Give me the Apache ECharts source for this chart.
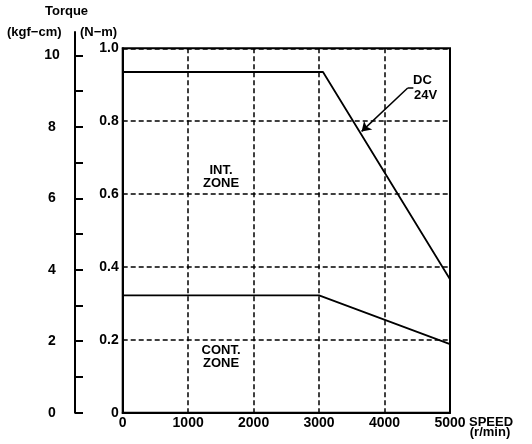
<!DOCTYPE html>
<html>
<head>
<meta charset="utf-8">
<script src="https://cdn.jsdelivr.net/npm/echarts@6/dist/echarts.min.js"></script>
<style>
  html, body { margin: 0; padding: 0; background: #fff; }
  #chart { width: 532px; height: 444px; }
</style>
</head>
<body>
<div id="chart"></div>
<script>
// speed-torque curve (N-m vs r/min)
const intSpeed = [0, 3060, 5000];
const intTorque = [0.935, 0.935, 0.366];
const contSpeed = [0, 3000, 5000];
const contTorque = [0.322, 0.322, 0.188];

const kgfTicks = [0, 1, 2, 3, 4, 5, 6, 7, 8, 9, 10];
const kgfLabels = [0, 2, 4, 6, 8, 10];

// arrow for the DC 24V note, in data coords
const arrowFrom = [4354, 0.891];
const arrowTo = [3650, 0.772];
const arrowFoot = [4440, 0.891];

const FONT = '"Liberation Sans", Arial, sans-serif';
const KGF_PER_NM = 1 / 0.0980665;

const gridTop = 48.3, gridBottom = 31.3;
const plotH = 444 - gridTop - gridBottom;
const kgfTop = 32;
// kgf axis runs higher than the plot, same scale
const kgfMax = (444 - kgfTop - gridBottom) / plotH * KGF_PER_NM;

const chart = echarts.init(document.getElementById('chart'));

const lbl = { color: '#000', fontFamily: FONT, fontSize: 13, fontWeight: 'bold' };
const axLbl = { color: '#000', fontFamily: FONT, fontSize: 14, fontWeight: 'bold' };

chart.setOption({
  animation: false,
  backgroundColor: '#fff',
  grid: [
    { left: 122.7, right: 82, top: gridTop, bottom: gridBottom, show: true, borderColor: '#000', borderWidth: 2 },
    { left: 75, width: 1, top: kgfTop, bottom: gridBottom }
  ],
  xAxis: [
    {
      type: 'value', gridIndex: 0, min: 0, max: 5000, interval: 1000,
      axisLine: { lineStyle: { color: '#000', width: 2 } },
      axisTick: { show: false },
      axisLabel: Object.assign({ margin: 3, formatter: v => String(v) }, axLbl),
      splitLine: { show: true, lineStyle: { color: '#000', type: [5, 3], width: 1.5 } }
    },
    { type: 'value', gridIndex: 1, show: false }
  ],
  yAxis: [
    {
      type: 'value', gridIndex: 0, min: 0, max: 1, interval: 0.2,
      axisLine: { show: true, lineStyle: { color: '#000', width: 2 } },
      axisTick: { show: false },
      axisLabel: Object.assign({
        margin: 4,
        formatter: v => v === 0 ? '0' : v.toFixed(1)
      }, axLbl),
      splitLine: { show: true, lineStyle: { color: '#000', type: [5, 3], width: 1.5 } }
    },
    {
      type: 'value', gridIndex: 1, min: 0, max: kgfMax,
      axisLine: { show: true, lineStyle: { color: '#000', width: 2 } },
      axisTick: { show: true, inside: true, length: 8, customValues: kgfTicks, lineStyle: { color: '#000', width: 2 } },
      axisLabel: Object.assign({ margin: 23, align: 'center', customValues: kgfLabels }, axLbl),
      splitLine: { show: false }
    }
  ],
  series: [
    {
      name: 'INT', type: 'line', xAxisIndex: 0, yAxisIndex: 0,
      data: intSpeed.map((s, i) => [s, intTorque[i]]),
      symbol: 'none',
      lineStyle: { color: '#000', width: 1.8 },
      markLine: {
        silent: true,
        symbol: ['none', 'arrow'],
        symbolSize: 9,
        label: { show: false },
        lineStyle: { color: '#000', type: 'solid', width: 1.5 },
        data: [
          [{ coord: arrowFrom }, { coord: arrowTo }],
          [{ coord: arrowFrom, symbol: 'none' }, { coord: arrowFoot, symbol: 'none' }]
        ]
      }
    },
    {
      name: 'CONT', type: 'line', xAxisIndex: 0, yAxisIndex: 0,
      data: contSpeed.map((s, i) => [s, contTorque[i]]),
      symbol: 'none',
      lineStyle: { color: '#000', width: 1.8 }
    }
  ],
  graphic: [
    { type: 'text', left: 45, top: 5, style: Object.assign({ text: 'Torque' }, lbl) },
    { type: 'text', left: 7, top: 26, style: Object.assign({ text: '(kgf−cm)' }, lbl) },
    { type: 'text', left: 80, top: 26, style: Object.assign({ text: '(N−m)' }, lbl) },
    { type: 'text', x: 221, y: 170, style: Object.assign({ text: 'INT.', align: 'center', verticalAlign: 'middle' }, lbl) },
    { type: 'text', x: 221, y: 183, style: Object.assign({ text: 'ZONE', align: 'center', verticalAlign: 'middle' }, lbl) },
    { type: 'text', x: 221, y: 350, style: Object.assign({ text: 'CONT.', align: 'center', verticalAlign: 'middle' }, lbl) },
    { type: 'text', x: 221, y: 363, style: Object.assign({ text: 'ZONE', align: 'center', verticalAlign: 'middle' }, lbl) },
    { type: 'text', x: 413, y: 80, style: Object.assign({ text: 'DC', verticalAlign: 'middle' }, lbl) },
    { type: 'text', x: 414, y: 95, style: Object.assign({ text: '24V', verticalAlign: 'middle' }, lbl) },
    { type: 'text', x: 491, y: 422, style: Object.assign({ text: 'SPEED', align: 'center', verticalAlign: 'middle' }, lbl) },
    { type: 'text', x: 490, y: 432, style: Object.assign({ text: '(r/min)', align: 'center', verticalAlign: 'middle' }, lbl) }
  ]
});
</script>
</body>
</html>
